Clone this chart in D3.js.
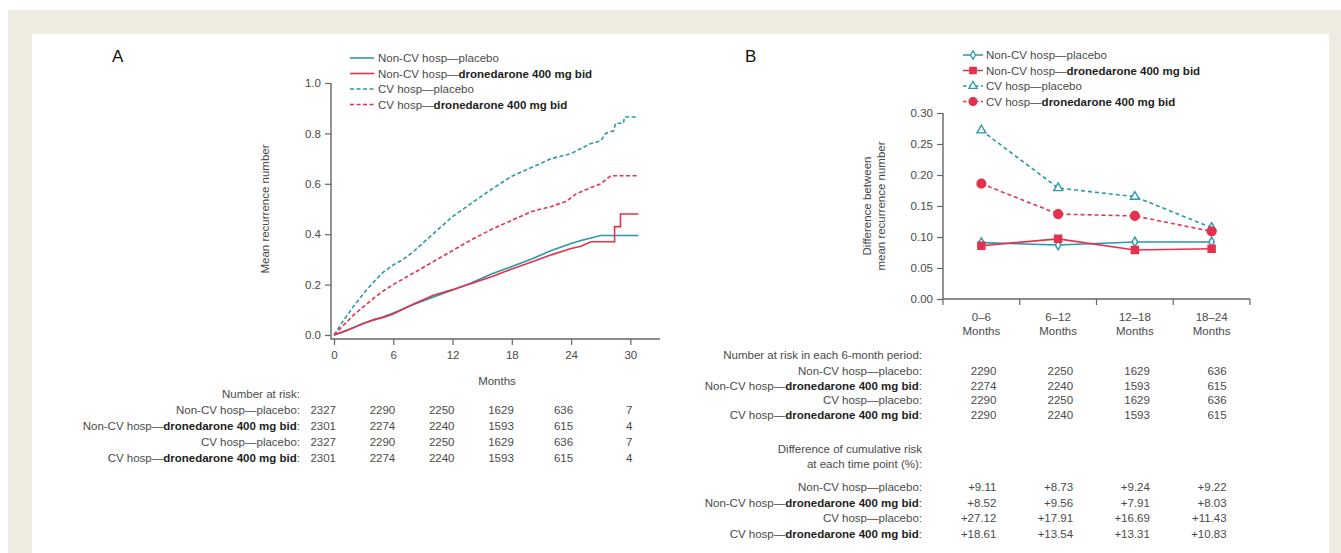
<!DOCTYPE html>
<html>
<head>
<meta charset="utf-8">
<script src="https://cdn.jsdelivr.net/npm/d3@7"></script>
<style>
  body { margin: 0; background: #fff; }
  svg { display: block; font-family: "Liberation Sans", Arial, sans-serif; }
</style>
</head>
<body>
<div id="wrapper"></div>
<script>
const teal = "#2a97ab", red = "#e4324c";
const txt = "#4a4a4a", bold = "#1e1e1e", axisCol = "#666";

// row names used in legends and tables
const groupNames = ["Non-CV hosp", "Non-CV hosp", "CV hosp", "CV hosp"];
const armNames = ["placebo", "dronedarone 400 mg bid", "placebo", "dronedarone 400 mg bid"];

// panel A: mean recurrence number, [month, value]
const ncvPlacebo = [[0,0],[1,0.015],[2,0.03],[3,0.047],[4,0.06],[5,0.072],[6,0.087],[8,0.12],[10,0.15],[12,0.179],[14,0.208],[16,0.243],[18,0.272],[20,0.302],[22,0.335],[24,0.363],[25,0.375],[26,0.385],[27,0.395],[30.8,0.395]];
const ncvDron = [[0,0],[1,0.013],[2,0.03],[3,0.046],[4,0.06],[5,0.07],[6,0.083],[8,0.122],[10,0.157],[12,0.18],[14,0.205],[16,0.232],[18,0.262],[20,0.29],[22,0.318],[24,0.343],[25,0.352],[26,0.37],[28.4,0.37],[28.4,0.43],[29,0.43],[29,0.48],[30.8,0.48]];
const cvPlacebo = [[0,0],[0.5,0.03],[1,0.06],[2,0.115],[3,0.165],[4,0.21],[5,0.25],[6,0.278],[7,0.3],[8,0.33],[10,0.4],[12,0.47],[14,0.525],[16,0.58],[18,0.63],[20,0.665],[22,0.7],[24,0.72],[25,0.74],[26,0.76],[27,0.77],[27.5,0.8],[28.3,0.81],[28.5,0.84],[29.3,0.84],[29.4,0.865],[30.8,0.865]];
const cvDron = [[0,0],[1,0.04],[2,0.08],[3,0.113],[4,0.145],[5,0.175],[6,0.2],[8,0.245],[10,0.29],[12,0.335],[14,0.38],[16,0.42],[18,0.455],[20,0.49],[22,0.51],[23.5,0.53],[24.5,0.56],[26,0.585],[27,0.6],[28,0.632],[30.8,0.632]];

const monthTicks = [0, 6, 12, 18, 24, 30];
const yTicksA = [0, 0.2, 0.4, 0.6, 0.8, 1.0];
const riskA = [
  [2327, 2290, 2250, 1629, 636, 7],
  [2301, 2274, 2240, 1593, 615, 4],
  [2327, 2290, 2250, 1629, 636, 7],
  [2301, 2274, 2240, 1593, 615, 4]
];

// panel B: difference between mean recurrence number per 6-month period
const periods = ["0–6", "6–12", "12–18", "18–24"];
const yTicksB = [0, 0.05, 0.10, 0.15, 0.20, 0.25, 0.30];
const diffNcvPlacebo = [0.091, 0.087, 0.092, 0.092];
const diffNcvDron = [0.086, 0.097, 0.079, 0.081];
const diffCvPlacebo = [0.272, 0.179, 0.165, 0.115];
const diffCvDron = [0.186, 0.137, 0.134, 0.109];
const riskB = [
  [2290, 2250, 1629, 636],
  [2274, 2240, 1593, 615],
  [2290, 2250, 1629, 636],
  [2290, 2240, 1593, 615]
];
const cumRiskB = [
  ["+9.11", "+8.73", "+9.24", "+9.22"],
  ["+8.52", "+9.56", "+7.91", "+8.03"],
  ["+27.12", "+17.91", "+16.69", "+11.43"],
  ["+18.61", "+13.54", "+13.31", "+10.83"]
];

const seriesA = [ncvPlacebo, ncvDron, cvPlacebo, cvDron];
const seriesB = [diffNcvPlacebo, diffNcvDron, diffCvPlacebo, diffCvDron];
const colors = [teal, red, teal, red];
const dashed = [false, false, true, true];
const symbols = [d3.symbolDiamond, d3.symbolSquare, d3.symbolTriangle, d3.symbolCircle];
const symSize = [26, 50, 34, 60];
const symFilled = [false, true, false, true];

const width = 1341, height = 553;
const svg = d3.select("#wrapper").append("svg")
  .attr("width", width)
  .attr("height", height);

// page background like the journal frame
svg.append("rect").attr("x", 8).attr("y", 10).attr("width", width - 8).attr("height", height - 10).attr("fill", "#eeebe1");
svg.append("rect").attr("x", 32).attr("y", 34).attr("width", 1297).attr("height", height - 34).attr("fill", "#fff");

// label with the arm part in bold when it is dronedarone
function rowLabel(g, x, y, i, anchor, colon) {
  const t = g.append("text")
    .attr("x", x).attr("y", y).attr("dy", "0.35em")
    .attr("text-anchor", anchor)
    .attr("font-size", 11.5)
    .attr("fill", txt);
  t.append("tspan").text(groupNames[i] + "—");
  const isDron = armNames[i] !== "placebo";
  t.append("tspan")
    .attr("font-weight", isDron ? "bold" : null)
    .attr("fill", isDron ? bold : txt)
    .text(armNames[i]);
  if (colon) t.append("tspan").text(":");
}

function plainText(g, x, y, s, anchor) {
  return g.append("text")
    .attr("x", x).attr("y", y).attr("dy", "0.35em")
    .attr("text-anchor", anchor)
    .attr("font-size", 11.5)
    .attr("fill", txt)
    .text(s);
}

function styleAxis(g) {
  g.select(".domain").remove();
  g.selectAll(".tick line").attr("stroke", axisCol).attr("stroke-width", 1.2);
  g.selectAll(".tick text").attr("fill", txt).attr("font-size", 11.5).attr("font-family", null);
}

// ---------------- panel A ----------------
const gA = svg.append("g");
gA.append("text").attr("x", 112).attr("y", 56).attr("dy", "0.35em")
  .attr("font-size", 17).attr("fill", "#111").text("A");

const xA = d3.scaleLinear().domain([0, 33]).range([334, 660]);
const yA = d3.scaleLinear().domain([0, 1]).range([335, 83]);
const axisXA = 331, axisYA = 339;

gA.append("g")
  .attr("transform", `translate(${axisXA},0)`)
  .call(d3.axisLeft(yA).tickValues(yTicksA).tickFormat(d3.format(".1f")).tickSize(6).tickPadding(4))
  .call(styleAxis);
gA.append("g")
  .attr("transform", `translate(0,${axisYA})`)
  .call(d3.axisBottom(xA).tickValues(monthTicks).tickSize(6).tickPadding(6))
  .call(styleAxis);
gA.append("path")
  .attr("d", `M${axisXA},${yA(1)}V${axisYA}H${xA(33)}`)
  .attr("fill", "none").attr("stroke", axisCol).attr("stroke-width", 1.4);

gA.append("text")
  .attr("transform", `translate(265,${(yA(0) + yA(1)) / 2}) rotate(-90)`)
  .attr("dy", "0.35em").attr("text-anchor", "middle")
  .attr("font-size", 11.5).attr("fill", txt)
  .text("Mean recurrence number");
plainText(gA, (xA(0) + xA(33)) / 2, 381, "Months", "middle");

const lineA = d3.line().x(d => xA(d[0])).y(d => yA(d[1]));
gA.selectAll("path.curve")
  .data(seriesA)
  .join("path")
  .attr("class", "curve")
  .attr("d", lineA)
  .attr("fill", "none")
  .attr("stroke", (d, i) => colors[i])
  .attr("stroke-width", 1.6)
  .attr("stroke-dasharray", (d, i) => dashed[i] ? "4,2.5" : null);

// legend A
const legA = gA.append("g");
[58, 73.5, 89, 104.5].forEach((y, i) => {
  legA.append("line").attr("x1", 350).attr("x2", 374).attr("y1", y).attr("y2", y)
    .attr("stroke", colors[i]).attr("stroke-width", 1.6)
    .attr("stroke-dasharray", dashed[i] ? "4,2.5" : null);
  rowLabel(legA, 378, y, i, "start", false);
});

// number at risk table A
const tabA = gA.append("g");
const rowsA = [410, 426, 442, 458];
plainText(tabA, 300, 394, "Number at risk:", "end");
rowsA.forEach((y, i) => {
  rowLabel(tabA, 300, y, i, "end", true);
  riskA[i].forEach((v, j) => {
    plainText(tabA, xA(monthTicks[j]) + 2, y, v, "end");
  });
});

// ---------------- panel B ----------------
const gB = svg.append("g");
gB.append("text").attr("x", 745).attr("y", 56).attr("dy", "0.35em")
  .attr("font-size", 17).attr("fill", "#111").text("B");

const xB = d3.scaleBand().domain(periods).range([943, 1250]).padding(0);
const yB = d3.scaleLinear().domain([0, 0.3]).range([299, 113]);
const cx = p => xB(p) + xB.bandwidth() / 2;

gB.append("g")
  .attr("transform", "translate(943,0)")
  .call(d3.axisLeft(yB).tickValues(yTicksB).tickFormat(d3.format(".2f")).tickSize(6).tickPadding(4))
  .call(styleAxis);
gB.append("path")
  .attr("d", `M943,${yB(0.3)}V${yB(0)}H1250`)
  .attr("fill", "none").attr("stroke", axisCol).attr("stroke-width", 1.4);
// ticks at the period boundaries
const bounds = periods.map(p => xB(p)).concat([xB.range()[1]]);
gB.selectAll("line.btick")
  .data(bounds)
  .join("line")
  .attr("class", "btick")
  .attr("x1", d => d).attr("x2", d => d)
  .attr("y1", yB(0)).attr("y2", yB(0) + 6)
  .attr("stroke", axisCol).attr("stroke-width", 1.2);
periods.forEach(p => {
  plainText(gB, cx(p), 317, p, "middle");
  plainText(gB, cx(p), 331, "Months", "middle");
});

const yLab = gB.append("text")
  .attr("transform", `translate(874,${(yB(0) + yB(0.3)) / 2}) rotate(-90)`)
  .attr("text-anchor", "middle")
  .attr("font-size", 11.5).attr("fill", txt);
yLab.append("tspan").attr("x", 0).attr("dy", "-0.3em").text("Difference between");
yLab.append("tspan").attr("x", 0).attr("dy", "1.25em").text("mean recurrence number");

const lineB = d3.line().x((d, j) => cx(periods[j])).y(d => yB(d));
gB.selectAll("path.diff")
  .data(seriesB)
  .join("path")
  .attr("class", "diff")
  .attr("d", lineB)
  .attr("fill", "none")
  .attr("stroke", (d, i) => colors[i])
  .attr("stroke-width", 1.6)
  .attr("stroke-dasharray", (d, i) => dashed[i] ? "4,3" : null);

seriesB.forEach((vals, i) => {
  gB.selectAll(null)
    .data(vals)
    .join("path")
    .attr("transform", (d, j) => `translate(${cx(periods[j])},${yB(d)})`)
    .attr("d", d3.symbol(symbols[i], symSize[i]))
    .attr("fill", symFilled[i] ? colors[i] : "#fff")
    .attr("stroke", colors[i])
    .attr("stroke-width", 1.4);
});

// legend B
const legB = gB.append("g");
[55, 70.5, 86, 101.5].forEach((y, i) => {
  legB.append("line").attr("x1", 963).attr("x2", 983).attr("y1", y).attr("y2", y)
    .attr("stroke", colors[i]).attr("stroke-width", 1.5)
    .attr("stroke-dasharray", dashed[i] ? "3.5,2.5" : null);
  legB.append("path")
    .attr("transform", `translate(973,${y})`)
    .attr("d", d3.symbol(symbols[i], symSize[i] * 0.8))
    .attr("fill", symFilled[i] ? colors[i] : "#fff")
    .attr("stroke", colors[i]).attr("stroke-width", 1.3);
  rowLabel(legB, 986, y, i, "start", false);
});

// tables B
const tabB = gB.append("g");
const numX = p => cx(p) + 15;
plainText(tabB, 922, 355, "Number at risk in each 6-month period:", "end");
[371, 385.5, 400, 414.5].forEach((y, i) => {
  rowLabel(tabB, 922, y, i, "end", true);
  riskB[i].forEach((v, j) => plainText(tabB, numX(periods[j]), y, v, "end"));
});
plainText(tabB, 922, 449, "Difference of cumulative risk", "end");
plainText(tabB, 922, 464, "at each time point (%):", "end");
[487, 502.5, 518, 534].forEach((y, i) => {
  rowLabel(tabB, 922, y, i, "end", true);
  cumRiskB[i].forEach((v, j) => plainText(tabB, numX(periods[j]), y, v, "end"));
});
</script>
</body>
</html>
